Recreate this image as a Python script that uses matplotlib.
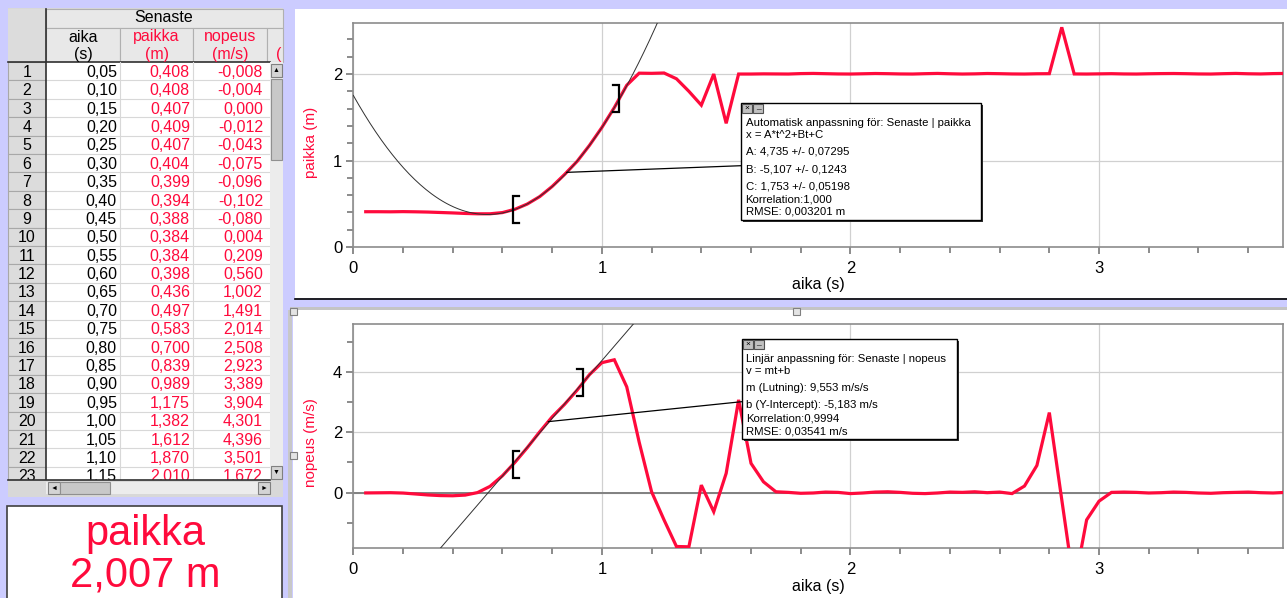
import numpy as np
import matplotlib
matplotlib.use("Agg")
import matplotlib.pyplot as plt
from matplotlib.patches import Rectangle, ConnectionPatch
from matplotlib.ticker import MultipleLocator

plt.rcParams["font.family"] = ["Liberation Sans", "DejaVu Sans"]

W, H = 1287, 598
RED = "#ff0a3c"
LAV = "#ccccff"

# logger samples at 20 Hz
aika = np.round(np.arange(1, 76) * 0.05, 2)

paikka = [
    0.408, 0.408, 0.407, 0.409, 0.407, 0.404, 0.399, 0.394, 0.388, 0.384,
    0.384, 0.398, 0.436, 0.497, 0.583, 0.700, 0.839, 0.989, 1.175, 1.382,
    1.612, 1.870, 2.010,
    2.008, 2.012, 1.945, 1.800, 1.640, 2.000, 1.430, 2.000,
    2.000, 2.002, 2.001, 2.000, 2.005, 2.007, 2.004, 2.001, 2.000, 2.003,
    2.006, 2.004, 2.001, 2.000, 2.004, 2.007, 2.003, 2.000, 2.002, 2.006,
    2.004, 2.001, 2.000, 2.003,
    2.004, 2.540, 2.001,
    2.000, 2.002, 2.004, 2.001, 2.000, 2.003, 2.005, 2.006, 2.004, 2.001,
    2.000, 2.004, 2.007, 2.003, 2.001, 2.005, 2.007,
]

nopeus = [
    -0.008, -0.004, 0.000, -0.012, -0.043, -0.075, -0.096, -0.102, -0.080, 0.004,
    0.209, 0.560, 1.002, 1.491, 2.014, 2.508, 2.923, 3.389, 3.904, 4.301,
    4.396, 3.501, 1.672,
    0.03, -0.90, -1.78, -1.79, 0.25, -0.63, 0.64, 3.07, 0.97, 0.36, 0.03,
    0.01, -0.02, -0.01, 0.02, 0.01, -0.03, -0.01, 0.02, 0.03, 0.01,
    -0.02, -0.03, -0.01, 0.02, 0.01, 0.03, 0.00,
    0.02, -0.03, 0.22, 0.90, 2.65, -0.23, -3.10, -0.90, -0.28, 0.01,
    0.02, 0.01, -0.01, 0.00, 0.02, 0.01, -0.01, -0.02, 0.00, 0.01,
    0.02, 0.00, -0.01, 0.01,
]

table_rows = 23
meter_value = "2,007 m"

# fits reported by the software
quad_A, quad_B, quad_C = 4.735, -5.107, 1.753
quad_range = (0.643, 1.07)
lin_m, lin_b = 9.553, -5.183
lin_range = (0.641, 0.925)

quad_text = [
    "Automatisk anpassning för: Senaste | paikka",
    "x = A*t^2+Bt+C",
    "A: 4,735 +/- 0,07295",
    "B: -5,107 +/- 0,1243",
    "C: 1,753 +/- 0,05198",
    "Korrelation:1,000",
    "RMSE: 0,003201 m",
]
lin_text = [
    "Linjär anpassning för: Senaste | nopeus",
    "v = mt+b",
    "m (Lutning): 9,553 m/s/s",
    "b (Y-Intercept): -5,183 m/s",
    "Korrelation:0,9994",
    "RMSE: 0,03541 m/s",
]


def frac(x0, y0, x1, y1):
    return [x0 / W, 1 - y1 / H, (x1 - x0) / W, (y1 - y0) / H]


def rect(ax, x0, y0, x1, y1, fc, ec="none", lw=0, z=1):
    ax.add_patch(Rectangle((x0, y0), x1 - x0, y1 - y0, facecolor=fc,
                           edgecolor=ec, linewidth=lw, zorder=z))


fig = plt.figure(figsize=(W / 100, H / 100), dpi=100)

bg = fig.add_axes([0, 0, 1, 1])
bg.set_zorder(-1)
bg.set_xlim(0, W)
bg.set_ylim(H, 0)
bg.axis("off")

# window background and panels
rect(bg, 0, 0, W, H, LAV, z=0)
rect(bg, 295, 9, W, 298, "white")
bg.plot([295, W], [299, 299], color="black", lw=1.2, zorder=2)
rect(bg, 290, 307, W, 311, "#c4c4c4")
rect(bg, 293, 310, W, H, "white")
rect(bg, 288, 310, 292, H, "#c8c8c8")

# data table
TFS = 11.5
rect(bg, 8, 8, 283, 497, "#d8d8d8")
rect(bg, 46, 9, 283, 28, "#e8e8e8", ec="#b0b0b0", lw=0.8)
bg.text(164, 18, "Senaste", ha="center", va="center", fontsize=TFS)
rect(bg, 8, 9, 46, 62, "#dcdcdc")
cols = [(46, 120, "aika", "(s)", "black"),
        (120, 193, "paikka", "(m)", RED),
        (193, 267, "nopeus", "(m/s)", RED)]
for x0, x1, name, unit, c in cols:
    rect(bg, x0, 28, x1, 62, "#e8e8e8", ec="#b0b0b0", lw=0.8)
    bg.text((x0 + x1) / 2, 37, name, ha="center", va="center", fontsize=TFS, color=c)
    bg.text((x0 + x1) / 2, 54, unit, ha="center", va="center", fontsize=TFS, color=c)
rect(bg, 267, 28, 283, 62, "#e8e8e8", ec="#b0b0b0", lw=0.8)
bg.text(276, 54, "(", ha="left", va="center", fontsize=TFS, color=RED)
bg.plot([8, 270], [62, 62], color="#303030", lw=1.2, zorder=2)

row_h = 18.4
for i in range(table_rows):
    y0 = 62 + i * row_h
    yc = y0 + row_h / 2 + 1
    rect(bg, 8, y0, 46, y0 + row_h, "#dcdcdc", ec="#a8a8a8", lw=0.8)
    rect(bg, 46, y0, 270, y0 + row_h, "white")
    bg.plot([46, 270], [y0 + row_h, y0 + row_h], color="#d8d8d8", lw=0.8, zorder=2)
    bg.text(27, yc, str(i + 1), ha="center", va="center", fontsize=TFS)
    bg.text(117, yc, f"{aika[i]:.2f}".replace(".", ","), ha="right", va="center", fontsize=TFS)
    bg.text(190, yc, f"{paikka[i]:.3f}".replace(".", ","), ha="right", va="center",
            fontsize=TFS, color=RED)
    bg.text(263, yc, f"{nopeus[i]:.3f}".replace(".", ",").replace("-0,000", "0,000"),
            ha="right", va="center", fontsize=TFS, color=RED)
for xv in (120, 193):
    bg.plot([xv, xv], [62, 480], color="#d8d8d8", lw=0.8, zorder=2)
bg.plot([46, 46], [9, 480], color="#303030", lw=1.2, zorder=2)

# scrollbars
rect(bg, 270, 62, 283, 480, "#ececec", z=4)
rect(bg, 271, 64, 282, 77, "#d4d4d4", ec="#808080", lw=0.8, z=5)
bg.text(276.5, 70.5, "▲", ha="center", va="center", fontsize=5, zorder=6)
rect(bg, 271, 79, 282, 160, "#c8c8c8", ec="#909090", lw=0.8, z=5)
rect(bg, 271, 466, 282, 479, "#d4d4d4", ec="#808080", lw=0.8, z=5)
bg.text(276.5, 472.5, "▼", ha="center", va="center", fontsize=5, zorder=6)
rect(bg, 8, 480, 283, 497, "#d8d8d8", z=4)
bg.plot([8, 270], [480, 480], color="#303030", lw=1.2, zorder=5)
rect(bg, 46, 482, 270, 494, "#ececec", z=5)
rect(bg, 48, 482, 60, 494, "#d4d4d4", ec="#808080", lw=0.8, z=6)
bg.text(54, 488, "◄", ha="center", va="center", fontsize=5, zorder=7)
rect(bg, 60, 482, 110, 494, "#c8c8c8", ec="#909090", lw=0.8, z=6)
rect(bg, 258, 482, 270, 494, "#d4d4d4", ec="#808080", lw=0.8, z=6)
bg.text(264, 488, "►", ha="center", va="center", fontsize=5, zorder=7)

# meter
rect(bg, 7, 506, 282, H + 2, "white", ec="#404040", lw=1.2)
bg.text(145, 534, "paikka", ha="center", va="center", fontsize=30, color=RED)
bg.text(145, 575, meter_value, ha="center", va="center", fontsize=30, color=RED)

# handles
for hx, hy in ((290, 308), (793, 308), (290, 452)):
    rect(bg, hx, hy, hx + 7, hy + 7, "#e4e4e4", ec="#808080", lw=0.8, z=6)

# graphs
ax1 = fig.add_axes(frac(353.3, 23, 1283, 247))
ax2 = fig.add_axes(frac(353.3, 324, 1283, 547.7))
t_fit = np.linspace(0, 3.74, 500)

ax1.set_xlim(0, 3.74)
ax1.set_ylim(0, 2.59)
ax1.yaxis.set_major_locator(MultipleLocator(1))
ax1.yaxis.set_minor_locator(MultipleLocator(0.2))
ax1.plot(aika, paikka, color=RED, lw=2.3, zorder=3, solid_joinstyle="miter")
ax1.plot(t_fit, quad_A * t_fit ** 2 + quad_B * t_fit + quad_C, color="#303030", lw=0.7, zorder=4)

ax2.set_xlim(0, 3.74)
ax2.set_ylim(-1.82, 5.58)
ax2.yaxis.set_major_locator(MultipleLocator(2))
ax2.yaxis.set_minor_locator(MultipleLocator(1))
ax2.axhline(0, color="#808080", lw=1.4, zorder=2)
ax2.plot(aika, nopeus, color=RED, lw=2.3, zorder=3, solid_joinstyle="miter")
ax2.plot([0, 3.74], [lin_b, lin_m * 3.74 + lin_b], color="#303030", lw=0.7, zorder=4)

for ax in (ax1, ax2):
    ax.xaxis.set_major_locator(MultipleLocator(1))
    ax.xaxis.set_minor_locator(MultipleLocator(0.2))
    ax.grid(True, which="major", color="#d0d0d0", lw=0.9, zorder=1)
    ax.set_axisbelow(True)
    for s in ax.spines.values():
        s.set_color("#8c8c8c")
        s.set_linewidth(1.2)
    ax.tick_params(which="both", direction="out", color="#6c6c6c", width=1.1,
                   labelsize=12, top=False, right=False)
    ax.tick_params(which="major", length=5)
    ax.tick_params(which="minor", length=4)
    ax.tick_params(axis="x", pad=5)
    ax.tick_params(axis="y", pad=3)

fg = fig.add_axes([0, 0, 1, 1])
fg.set_zorder(5)
fg.set_xlim(0, W)
fg.set_ylim(H, 0)
fg.axis("off")

fg.text(311, 142, "paikka (m)", rotation=90, ha="center", va="center", fontsize=11, color=RED)
fg.text(311, 443, "nopeus (m/s)", rotation=90, ha="center", va="center", fontsize=11, color=RED)
fg.text(818, 285, "aika (s)", ha="center", va="center", fontsize=11.5)
fg.text(818, 587, "aika (s)", ha="center", va="center", fontsize=11.5)


def to_px(ax, t, v):
    return fg.transData.inverted().transform(ax.transData.transform((t, v)))


def brackets(ax, rng, t_data, v_data):
    for k, t in enumerate(rng):
        x, y = to_px(ax, t, np.interp(t, t_data, v_data))
        d = 6 if k == 0 else -6
        fg.plot([x + d, x, x, x + d], [y - 13.5, y - 13.5, y + 13.5, y + 13.5],
                color="black", lw=1.6, solid_joinstyle="miter")


brackets(ax1, quad_range, aika, paikka)
brackets(ax2, lin_range, aika, nopeus)


def fit_box(x0, y0, x1, y1, lines, ys):
    rect(fg, x0 + 2, y0 + 2, x1 + 2, y1 + 2, "#303030", z=2)
    rect(fg, x0, y0, x1, y1, "white", ec="black", lw=1.0, z=3)
    rect(fg, x0 + 1, y0 + 1, x0 + 11, y0 + 10, "#c0c0c0", ec="#505050", lw=0.8, z=4)
    rect(fg, x0 + 12, y0 + 1, x0 + 22, y0 + 10, "#c0c0c0", ec="#505050", lw=0.8, z=4)
    fg.text(x0 + 6, y0 + 5.5, "×", ha="center", va="center", fontsize=6, zorder=5)
    fg.text(x0 + 17, y0 + 7, "_", ha="center", va="bottom", fontsize=6, zorder=5)
    for s, y in zip(lines, ys):
        fg.text(x0 + 4.5, y, s, ha="left", va="center", fontsize=8.2, zorder=5)


fit_box(741, 103, 981, 220, quad_text, [123.3, 134.5, 151.7, 169, 186.7, 200, 211.7])
fit_box(741.7, 339, 956.7, 439.3, lin_text, [359, 371, 387.7, 405, 418.3, 431.7])

# leader lines from curve to box
for ax, t, tv, vv, xy in ((ax1, 0.858, aika, paikka, (741, 165.7)),
                          (ax2, 0.784, aika, nopeus, (741.7, 401.7))):
    cp = ConnectionPatch(xyA=(t, np.interp(t, tv, vv)), coordsA=ax.transData,
                         xyB=xy, coordsB=fg.transData, color="black", lw=0.9)
    cp.set_zorder(3)
    fig.add_artist(cp)

fig.savefig("out.png", dpi=100)
